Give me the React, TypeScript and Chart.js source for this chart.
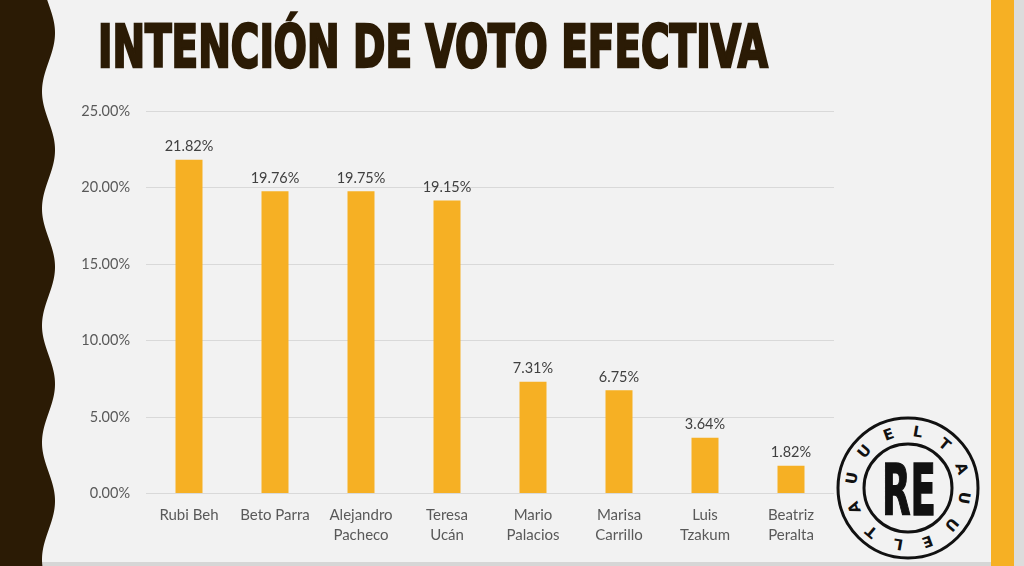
import React, { useEffect, useRef } from "react";
import { Chart, registerables } from "chart.js";

Chart.register(...registerables);

const TITLE = "INTENCIÓN DE VOTO EFECTIVA";
const CATEGORIES: (string | string[])[] = [
  "Rubi Beh",
  "Beto Parra",
  ["Alejandro", "Pacheco"],
  ["Teresa", "Ucán"],
  ["Mario", "Palacios"],
  ["Marisa", "Carrillo"],
  ["Luis", "Tzakum"],
  ["Beatriz", "Peralta"],
];
const VALUES = [21.82, 19.76, 19.75, 19.15, 7.31, 6.75, 3.64, 1.82];
const Y_MIN = 0;
const Y_MAX = 25;
const Y_STEP = 5;
const RING_LETTERS = ["U", "E", "L", "T", "A", "U", "U", "E", "L", "T", "A", "U"];
const LOGO_CENTER = "RE";

const BROWN = "#2B1B05";
const BAR = "#F6B024";
const BG = "#F2F2F2";
const FONT = "Lato, 'Open Sans', sans-serif";

function wavePath(): string {
  const pts: string[] = ["M0,0"];
  for (let y = 0; y <= 566; y += 2) {
    const x = 48.5 + 6.5 * Math.cos((2 * Math.PI * (y - 33)) / 117);
    pts.push(`L${x.toFixed(2)},${y}`);
  }
  pts.push("L0,566 Z");
  return pts.join(" ");
}

const labelPlugin = {
  id: "valueLabels",
  afterDatasetsDraw(chart: any) {
    const ctx = chart.ctx;
    const meta = chart.getDatasetMeta(0);
    ctx.save();
    ctx.font = `14.5px ${FONT}`;
    ctx.fillStyle = "#404040";
    ctx.textAlign = "center";
    ctx.textBaseline = "middle";
    meta.data.forEach((bar: any, i: number) => {
      ctx.fillText(VALUES[i].toFixed(2) + "%", bar.x, bar.y - 13);
    });
    ctx.restore();
  },
};

function BarChart() {
  const ref = useRef<HTMLCanvasElement | null>(null);
  useEffect(() => {
    if (!ref.current) return;
    const chart = new Chart(ref.current, {
      type: "bar",
      data: {
        labels: CATEGORIES,
        datasets: [
          {
            data: VALUES,
            backgroundColor: BAR,
            borderWidth: 0,
            barPercentage: 0.314,
            categoryPercentage: 1,
          },
        ],
      },
      options: {
        responsive: false,
        animation: false,
        events: [],
        layout: { padding: { left: 76, top: 111, right: 190, bottom: 12.5 } },
        plugins: { legend: { display: false }, tooltip: { enabled: false } },
        scales: {
          x: {
            grid: { display: false, drawTicks: false },
            border: { display: false },
            ticks: {
              color: "#595959",
              font: { family: FONT, size: 15, lineHeight: 20 / 15 },
              padding: 12,
              maxRotation: 0,
              autoSkip: false,
            },
            afterFit: (s: any) => {
              s.height = 60;
            },
          },
          y: {
            min: Y_MIN,
            max: Y_MAX,
            grid: { color: "#D9D9D9", lineWidth: 1, drawTicks: false },
            border: { display: false },
            ticks: {
              stepSize: Y_STEP,
              color: "#595959",
              font: { family: FONT, size: 14.5 },
              padding: 16,
              callback: (v: any) => Number(v).toFixed(2) + "%",
            },
            afterFit: (s: any) => {
              s.width = 70;
            },
          },
        },
      },
      plugins: [labelPlugin],
    });
    return () => chart.destroy();
  }, []);
  return (
    <canvas
      ref={ref}
      width={1024}
      height={566}
      style={{ position: "absolute", left: 0, top: 0, width: 1024, height: 566 }}
    />
  );
}

function Logo() {
  const cx = 908;
  const cy = 488;
  return (
    <g>
      <circle cx={cx} cy={cy} r={70} fill="none" stroke="#111" strokeWidth={3} />
      <circle cx={cx} cy={cy} r={44} fill="none" stroke="#111" strokeWidth={3} />
      {RING_LETTERS.map((ch, i) => {
        const ang = -140 + 30 * i;
        return (
          <text
            key={i}
            x={cx}
            y={cy - 57}
            textAnchor="middle"
            dominantBaseline="central"
            transform={`rotate(${ang + 90} ${cx} ${cy})`}
            fontFamily="'DejaVu Sans', sans-serif"
            fontWeight="bold"
            fontSize={15}
            fill="#111"
          >
            {ch}
          </text>
        );
      })}
      <text
        x={cx - 26}
        y={cy + 27}
        textLength={54}
        lengthAdjust="spacingAndGlyphs"
        fontFamily="'DejaVu Sans Condensed', 'Liberation Sans Narrow', 'DejaVu Sans', sans-serif"
        fontWeight="bold"
        fontSize={72}
        fill="#111"
        stroke="#111"
        strokeWidth={1.5}
      >
        {LOGO_CENTER}
      </text>
    </g>
  );
}

export default function App() {
  return (
    <div
      style={{
        position: "absolute",
        left: 0,
        top: 0,
        width: 1024,
        height: 566,
        overflow: "hidden",
        background: BG,
      }}
    >
      <svg
        width={1024}
        height={566}
        style={{ position: "absolute", left: 0, top: 0 }}
      >
        <rect x={0} y={562} width={1024} height={4} fill="#D6D6D6" />
        <rect x={991} y={0} width={23} height={566} fill={BAR} />
        <rect x={1014} y={0} width={10} height={566} fill="#DCDCDC" />
        <path d={wavePath()} fill={BROWN} />
        <text
          x={98}
          y={66.7}
          textLength={670}
          lengthAdjust="spacingAndGlyphs"
          fontFamily="'DejaVu Sans Condensed', 'Liberation Sans Narrow', 'DejaVu Sans', sans-serif"
          fontWeight="bold"
          fontSize={59.5}
          fill={BROWN}
          stroke={BROWN}
          strokeWidth={2.5}
        >
          {TITLE}
        </text>
        <Logo />
      </svg>
      <BarChart />
    </div>
  );
}
